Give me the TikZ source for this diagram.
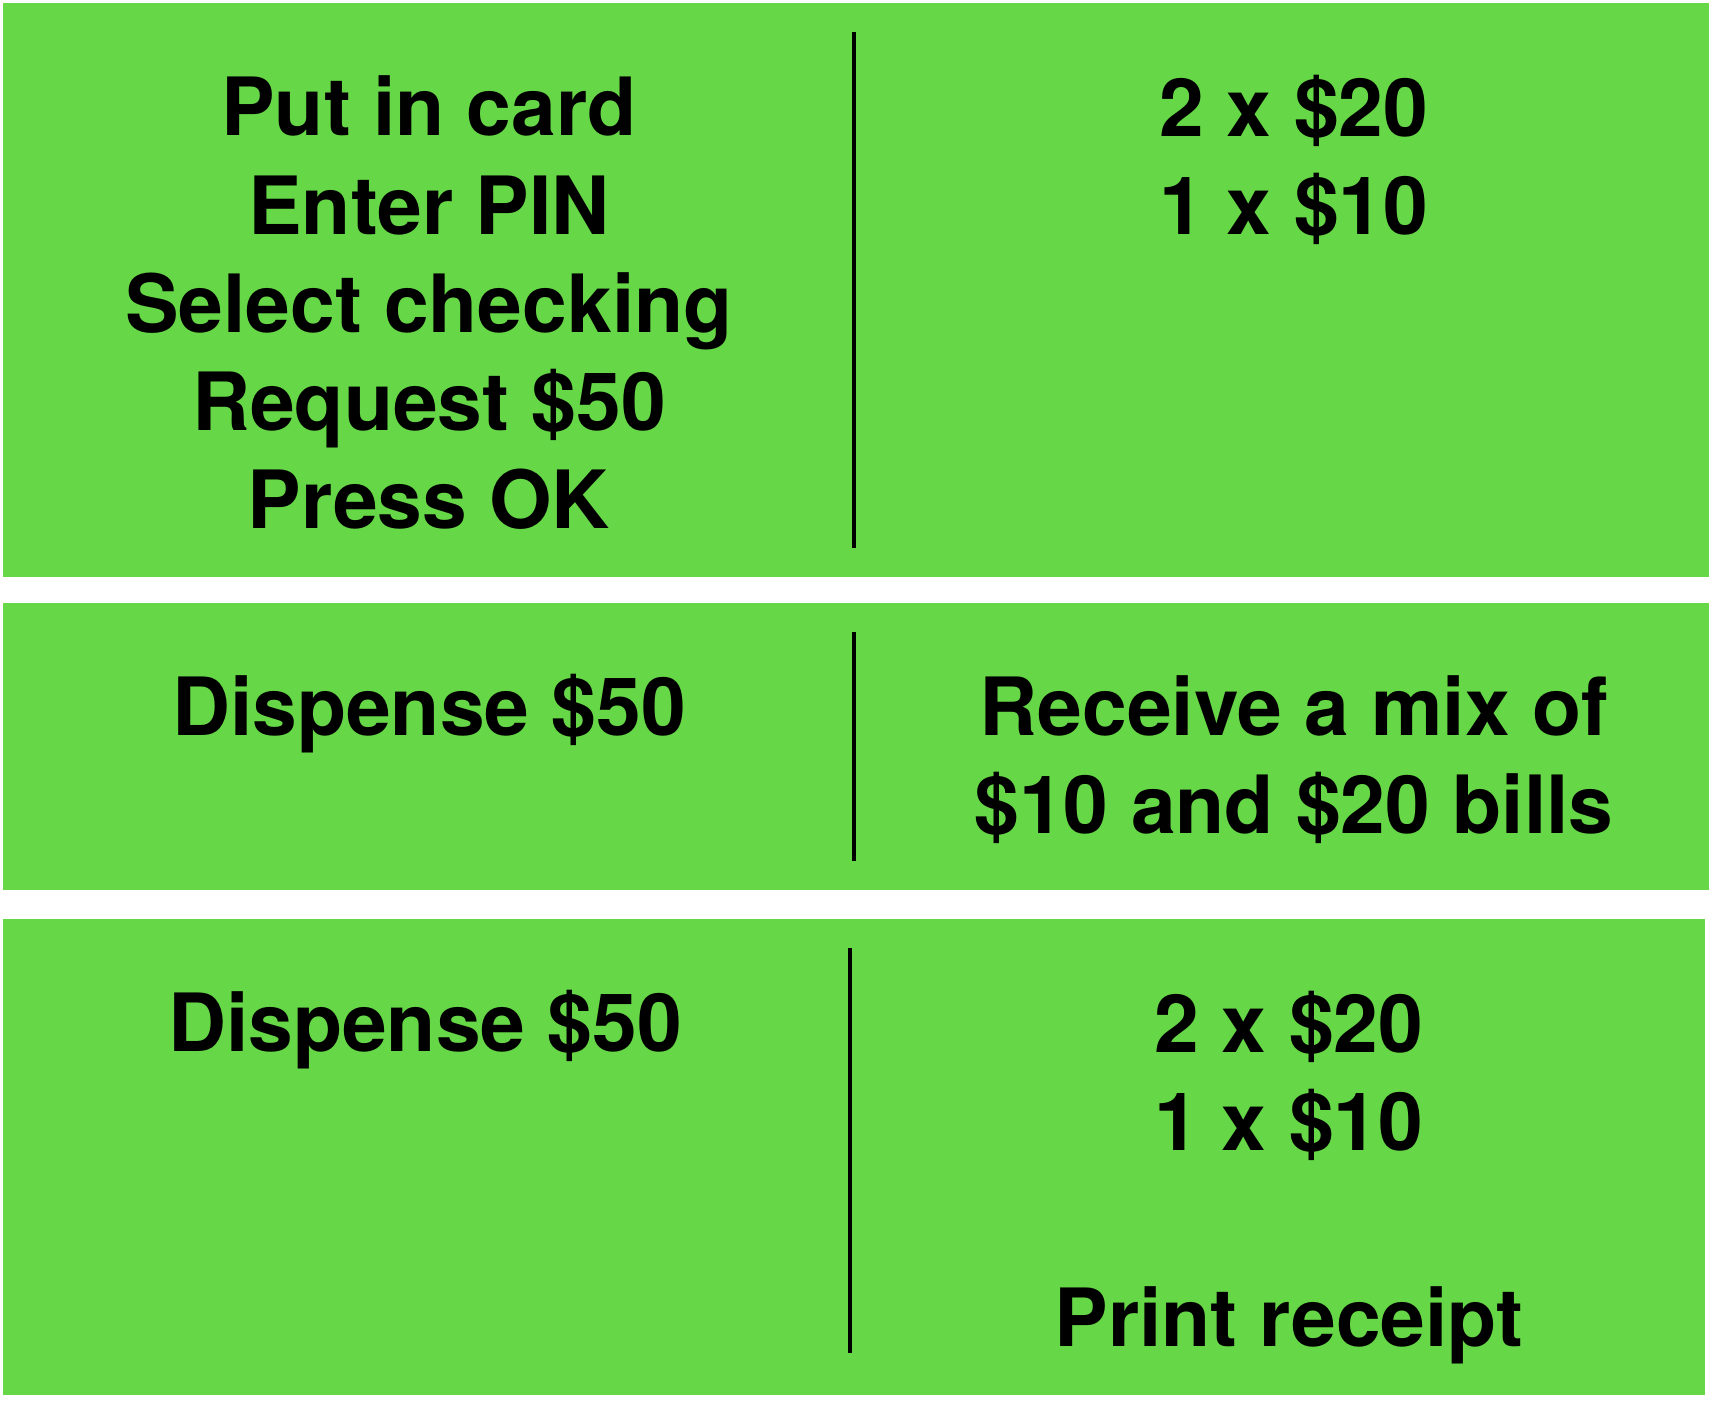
\documentclass[tikz,border=0pt]{standalone}
\usepackage{fontspec}
\setmainfont{TeX Gyre Heros}
\usepackage{tikz}
\usetikzlibrary{positioning}
\definecolor{panelgreen}{RGB}{102,215,71}

\begin{document}
\begin{tikzpicture}[x=0.01cm, y=-0.01cm,
    panel/.style={fill=panelgreen, draw=none},
    divider/.style={line width=0.04cm, draw=black},
    cell/.style={align=center, anchor=base, inner sep=0pt, font=\fontsize{22.85}{27.95}\selectfont\bfseries}]
    \useasboundingbox (0,0) rectangle (1714,1404);

    % green panels
    \fill[panel] (3,3) rectangle (1709,577);
    \fill[panel] (3,603) rectangle (1709,890);
    \fill[panel] (3,919) rectangle (1705,1395);

    % dividers
    \coordinate (div1top) at (854,32);
    \coordinate (div1bot) at (854,548);
    \coordinate (div2top) at (854,632);
    \coordinate (div2bot) at (854,861);
    \coordinate (div3top) at (850,948);
    \coordinate (div3bot) at (850,1353);
    \draw[divider] (div1top) -- (div1bot);
    \draw[divider] (div2top) -- (div2bot);
    \draw[divider] (div3top) -- (div3bot);

    % texts (base = baseline of the last line)
    \node[cell] (steps) at (429,529) {Put in card\\Enter PIN\\Select checking\\Request \$50\\Press OK};
    \node[cell] (bills) at (1294,235) {2 x \$20\\1 x \$10};
    \node[cell] (dispense) at (429,736) {Dispense \$50};
    \node[cell] (receive) at (1294,834) {Receive a mix of\\\$10 and \$20 bills};
    \node[cell] (dispense2) at (425,1052) {Dispense \$50};
    \node[cell] (bills2) at (1289,1347) {2 x \$20\\1 x \$10\\[27.95pt]Print receipt};
\end{tikzpicture}
\end{document}
